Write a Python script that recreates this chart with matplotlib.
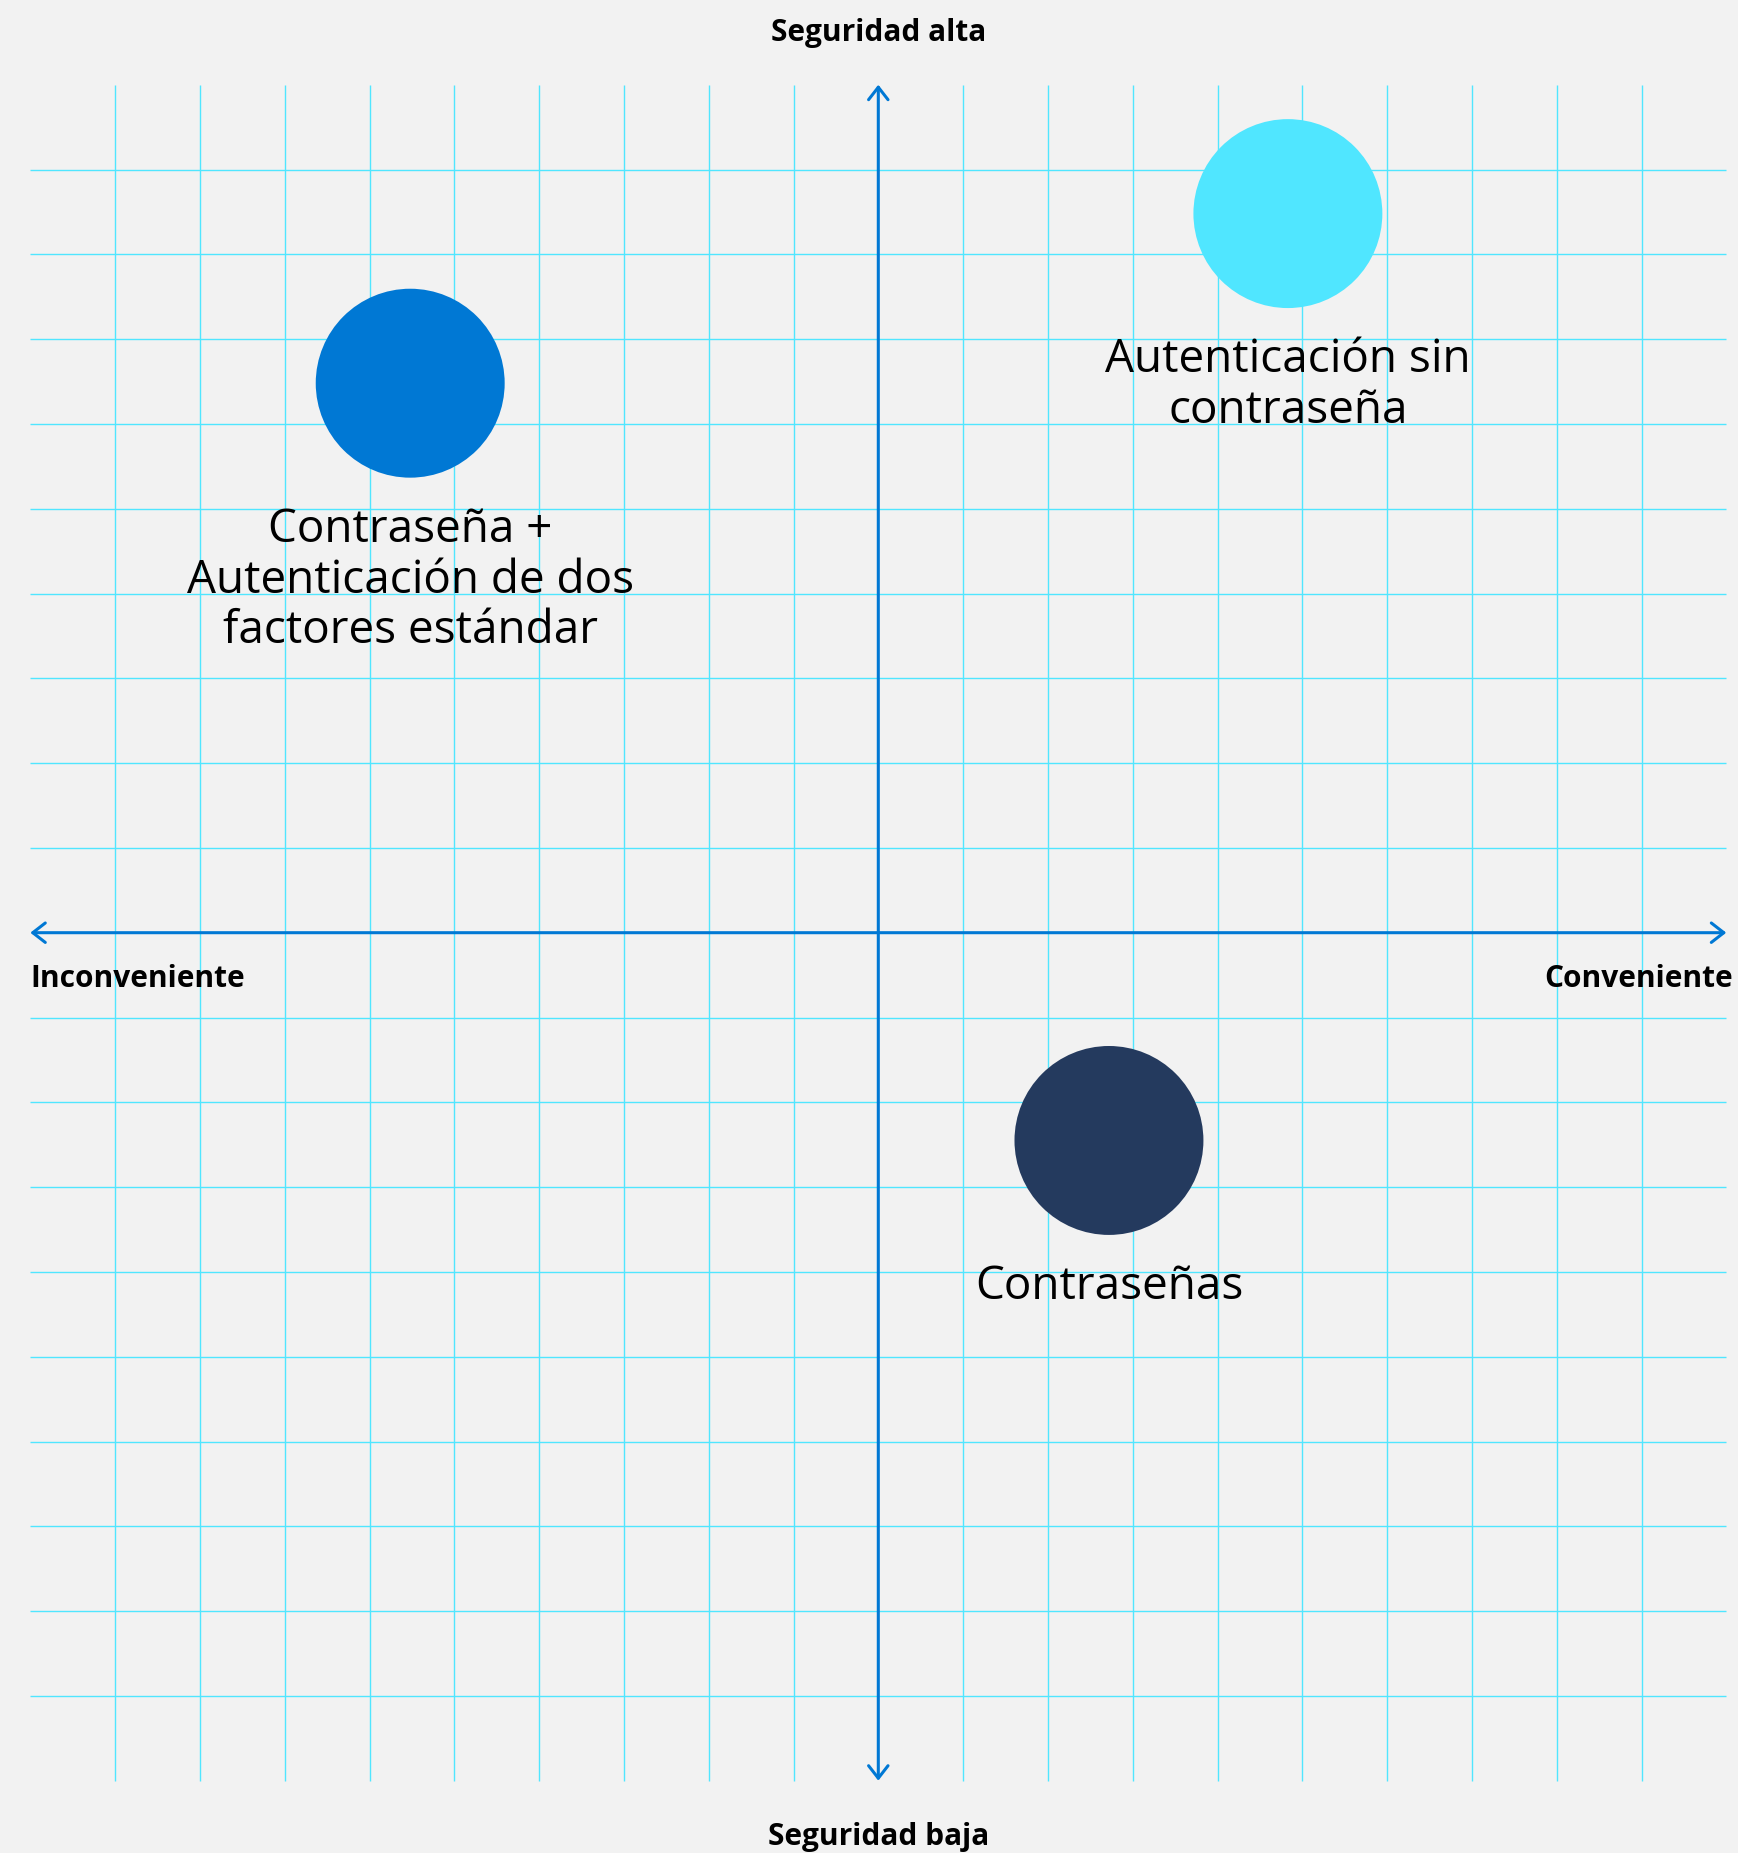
import matplotlib
matplotlib.use("Agg")
import matplotlib.pyplot as plt
from matplotlib.patches import Circle, FancyArrowPatch

# ---- data ----
labels = ["Autenticación sin\ncontraseña",
          "Contraseña +\nAutenticación de dos\nfactores estándar",
          "Contraseñas"]
conv_x = [4.83, -5.52, 2.72]      # convenience (x)
sec_y = [8.48, 6.48, -2.45]       # security (y)
colors = ["#50E6FF", "#0078D4", "#243A5E"]
grid_ticks = list(range(-9, 10))
axis_top = "Seguridad alta"
axis_bottom = "Seguridad baja"
axis_left = "Inconveniente"
axis_right = "Conveniente"

W, H, DPI = 1738, 1853, 100
UNIT = 84.8             # px per data unit
CX, CY = 878.3, 932.7   # px position of origin (from top-left)

plt.rcParams['font.family'] = ['Open Sans', 'DejaVu Sans']
BG = "#F2F2F2"
GRID = "#50E6FF"
AX = "#0078D4"

fig = plt.figure(figsize=(W / DPI, H / DPI), dpi=DPI, facecolor=BG)
ax = fig.add_axes([0, 0, 1, 1])
ax.set_facecolor(BG)
ax.set_xlim(-CX / UNIT, (W - CX) / UNIT)
ax.set_ylim(-(H - CY) / UNIT, CY / UNIT)
ax.set_axis_off()

# grid
for t in grid_ticks:
    if t != 0:
        ax.plot([t, t], [-10, 10], color=GRID, lw=1.0, zorder=1, solid_capstyle='butt')
        ax.plot([-10, 10], [t, t], color=GRID, lw=1.0, zorder=1, solid_capstyle='butt')

# axes arrows
for (a, b) in [((-10, 0), (10, 0)), ((0, -10), (0, 10))]:
    arr = FancyArrowPatch(a, b, arrowstyle='<->,head_length=9,head_width=7',
                          mutation_scale=1, color=AX, lw=2.2,
                          shrinkA=0, shrinkB=0, zorder=2)
    ax.add_patch(arr)

# bubbles
R = 1.114
LINE_STEP = 36.7   # points between label lines
for lab, x, y, c in zip(labels, conv_x, sec_y, colors):
    ax.add_patch(Circle((x, y), R, facecolor=c, edgecolor='none', zorder=3))
    for i, line in enumerate(lab.split("\n")):
        ax.annotate(line, xy=(x, y), xytext=(0, -114 - i * LINE_STEP),
                    textcoords='offset points', ha='center', va='baseline',
                    fontsize=33, fontweight='medium', color='black', zorder=4)

# axis titles
bold = dict(fontsize=21.5, fontweight='bold', color='black', zorder=4)
ax.text(0, 10.51, axis_top, ha='center', va='baseline', **bold)
ax.text(0, -10.76, axis_bottom, ha='center', va='baseline', **bold)
ax.text(-10.0, -0.644, axis_left, ha='left', va='baseline', **bold)
ax.text(10.08, -0.644, axis_right, ha='right', va='baseline', **bold)

fig.savefig("out.png", dpi=DPI, facecolor=BG)
